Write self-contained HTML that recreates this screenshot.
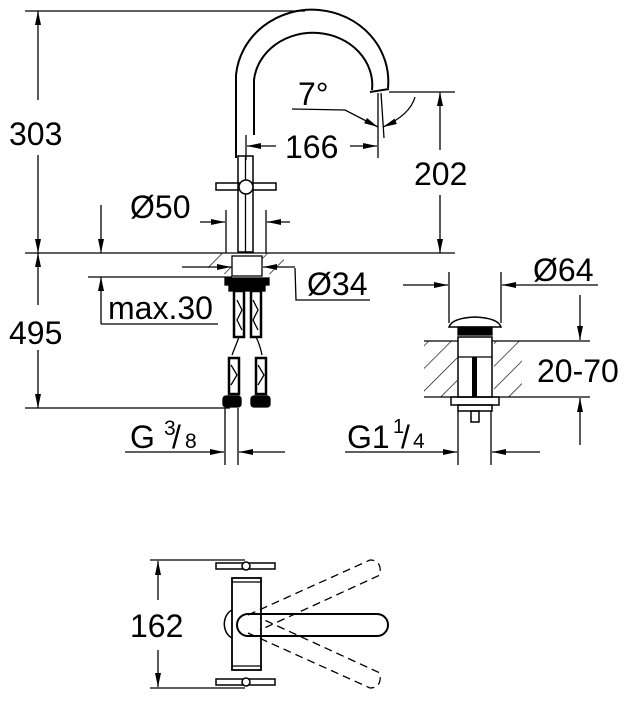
<!DOCTYPE html>
<html><head><meta charset="utf-8"><style>
html,body{margin:0;padding:0;background:#fff;}
svg{display:block;font-family:"Liberation Sans",Arial,sans-serif;}
</style></head><body>
<svg width="632" height="701" viewBox="0 0 632 701" xmlns="http://www.w3.org/2000/svg">
<defs>
<marker id="a" viewBox="0 0 14 6" refX="14" refY="3" markerWidth="14" markerHeight="6" markerUnits="userSpaceOnUse" orient="auto"><path d="M0,0L14,3L0,6z" fill="#000"/></marker>
<pattern id="h" width="16" height="16" patternUnits="userSpaceOnUse" patternTransform="rotate(45)"><line x1="0" y1="0" x2="0" y2="16" stroke="#000" stroke-width="1.3"/></pattern>
</defs>
<g stroke="#000" stroke-width="1.3" fill="none">
<line x1="25" y1="11" x2="305" y2="11"/>
<line x1="25" y1="253" x2="455" y2="253"/>
<line x1="25" y1="408" x2="230" y2="408"/>
<line x1="88" y1="277" x2="232" y2="277"/>
<line x1="38" y1="100" x2="38" y2="11" marker-end="url(#a)"/>
<line x1="38" y1="155" x2="38" y2="253" marker-end="url(#a)"/>
<line x1="38" y1="305" x2="38" y2="253" marker-end="url(#a)"/>
<line x1="38" y1="350" x2="38" y2="408" marker-end="url(#a)"/>
<line x1="101" y1="205" x2="101" y2="253" marker-end="url(#a)"/>
<line x1="101" y1="324" x2="101" y2="277" marker-end="url(#a)"/>
<line x1="101" y1="324" x2="218" y2="324"/>
<path d="M236,158 L236,75 A68,64 0 0 1 388,88" stroke-width="2"/>
<path d="M254,135 L254,80 A59,52 0 0 1 372,90" stroke-width="2"/>
<line x1="370" y1="92" x2="389" y2="89" stroke-width="2"/>
<line x1="389" y1="92" x2="455" y2="92"/>
<line x1="440" y1="150" x2="440" y2="92" marker-end="url(#a)"/>
<line x1="440" y1="195" x2="440" y2="253" marker-end="url(#a)"/>
<line x1="378" y1="93" x2="378" y2="158"/>
<line x1="381" y1="93" x2="384" y2="138"/>
<polyline points="292,109 345,110 378,127" marker-end="url(#a)"/>
<path d="M415,97 Q410,115 383,127" marker-end="url(#a)"/>
<line x1="246" y1="135" x2="246" y2="160"/>
<line x1="276" y1="146" x2="247" y2="146" marker-end="url(#a)"/>
<line x1="350" y1="146" x2="377" y2="146" marker-end="url(#a)"/>
<rect x="238" y="156" width="15" height="96" stroke-width="1.5"/>
<line x1="245.5" y1="156" x2="245.5" y2="252"/>
<rect x="216" y="183" width="60" height="7" stroke-width="1.5"/>
<circle cx="246" cy="187" r="7" stroke-width="1.5" fill="#fff"/>
<line x1="226" y1="210" x2="226" y2="253"/>
<line x1="266" y1="210" x2="266" y2="253"/>
<line x1="200" y1="222" x2="225" y2="222" marker-end="url(#a)"/>
<line x1="290" y1="222" x2="267" y2="222" marker-end="url(#a)"/>
<rect x="208" y="253" width="24" height="21" fill="url(#h)" stroke="none"/>
<rect x="262" y="253" width="22" height="21" fill="url(#h)" stroke="none"/>
<rect x="232" y="256" width="30" height="20"/>
<line x1="182" y1="267" x2="231" y2="267" marker-end="url(#a)"/>
<line x1="295" y1="267" x2="263" y2="267" marker-end="url(#a)"/>
<polyline points="295,268 296,300 370,300"/>
<rect x="225" y="278" width="44" height="7" fill="#000"/>
<rect x="229" y="285" width="36" height="6" fill="#000"/>
<rect x="234" y="291" width="10" height="46" stroke-width="2.5"/>
<rect x="251" y="291" width="10" height="46" stroke-width="2.5"/>
<path d="M237,300 L242,310 L237,320 L242,330 M253,300 L258,310 L253,320 L258,330"/>
<path d="M239,337 Q236,345 232,355 M256,337 Q260,345 262,355"/>
<rect x="229" y="358" width="10" height="36" stroke-width="2.5"/>
<rect x="256" y="358" width="10" height="36" stroke-width="2.5"/>
<path d="M231,365 L237,375 L231,385 M258,365 L264,375 L258,385"/>
<rect x="223" y="396" width="18" height="11" rx="3" fill="#000"/>
<rect x="251" y="396" width="19" height="11" rx="3" fill="#000"/>
<line x1="225" y1="408" x2="225" y2="465"/>
<line x1="238" y1="408" x2="238" y2="465"/>
<line x1="125" y1="452" x2="224" y2="452" marker-end="url(#a)"/>
<line x1="285" y1="452" x2="239" y2="452" marker-end="url(#a)"/>
<line x1="449" y1="272" x2="449" y2="323"/>
<line x1="501" y1="272" x2="501" y2="323"/>
<line x1="403" y1="285" x2="448" y2="285" marker-end="url(#a)"/>
<line x1="598" y1="285" x2="502" y2="285" marker-end="url(#a)"/>
<path d="M449,327 L501,327 Q498,318 475,317 Q452,318 449,327z" stroke-width="1.5"/>
<rect x="458" y="327" width="34" height="8" fill="#000"/>
<rect x="424" y="341" width="33" height="56" fill="url(#h)" stroke="none"/>
<rect x="494" y="341" width="28" height="56" fill="url(#h)" stroke="none"/>
<line x1="424" y1="341" x2="590" y2="341"/>
<line x1="424" y1="397" x2="590" y2="397"/>
<rect x="458" y="337" width="34" height="60" stroke-width="1.5" fill="#fff"/>
<line x1="458" y1="357" x2="492" y2="357"/>
<rect x="472" y="357" width="5" height="40" fill="#000" stroke="none"/>
<rect x="451" y="397" width="48" height="8" stroke-width="1.5"/>
<rect x="458" y="405" width="34" height="6" stroke-width="1.5"/>
<rect x="471" y="411" width="8" height="11" stroke-width="1.5"/>
<line x1="580" y1="295" x2="580" y2="340" marker-end="url(#a)"/>
<line x1="580" y1="445" x2="580" y2="398" marker-end="url(#a)"/>
<line x1="458" y1="411" x2="458" y2="465"/>
<line x1="491" y1="411" x2="491" y2="465"/>
<line x1="345" y1="452" x2="457" y2="452" marker-end="url(#a)"/>
<line x1="540" y1="452" x2="492" y2="452" marker-end="url(#a)"/>
<line x1="150" y1="560" x2="245" y2="560"/>
<line x1="150" y1="688" x2="245" y2="688"/>
<line x1="158" y1="600" x2="158" y2="561" marker-end="url(#a)"/>
<line x1="158" y1="650" x2="158" y2="687" marker-end="url(#a)"/>
<rect x="216" y="563" width="59" height="6" stroke-width="1.5"/>
<rect x="216" y="679" width="59" height="6" stroke-width="1.5"/>
<circle cx="246" cy="566" r="4" stroke-width="1.5" fill="#fff"/>
<circle cx="246" cy="682" r="4" stroke-width="1.5" fill="#fff"/>
<rect x="232" y="578" width="29" height="92" stroke-width="1.8"/>
<line x1="232" y1="582" x2="261" y2="582"/>
<line x1="232" y1="666" x2="261" y2="666"/>
<path d="M232,610 A12,15 0 0 0 232,638" stroke-width="1.5"/>
<rect x="237" y="614" width="151" height="22" rx="11" stroke-width="2"/>
<g stroke-dasharray="8,5">
<path d="M248,615 L370,560 Q382,560 380,575 L260,630"/>
<path d="M248,633 L370,688 Q382,688 380,673 L260,618"/>
</g>
</g>
<g font-size="32" fill="#000">
<text x="9" y="145">303</text>
<text x="9" y="344">495</text>
<text x="298" y="105">7°</text>
<text x="285" y="158">166</text>
<text x="414" y="185">202</text>
<text x="130" y="218">Ø50</text>
<text x="307" y="295">Ø34</text>
<text x="108" y="319">max.30</text>
<text x="533" y="281">Ø64</text>
<text x="537" y="382">20-70</text>
<text x="130" y="448">G</text>
<text x="164" y="435" font-size="21">3</text>
<text x="172" y="448">/</text>
<text x="185" y="448" font-size="21">8</text>
<text x="347" y="448">G1</text>
<text x="393" y="433" font-size="20">1</text>
<text x="401" y="448">/</text>
<text x="413" y="448" font-size="21">4</text>
<text x="130" y="637">162</text>
</g>
</svg>
</body></html>
